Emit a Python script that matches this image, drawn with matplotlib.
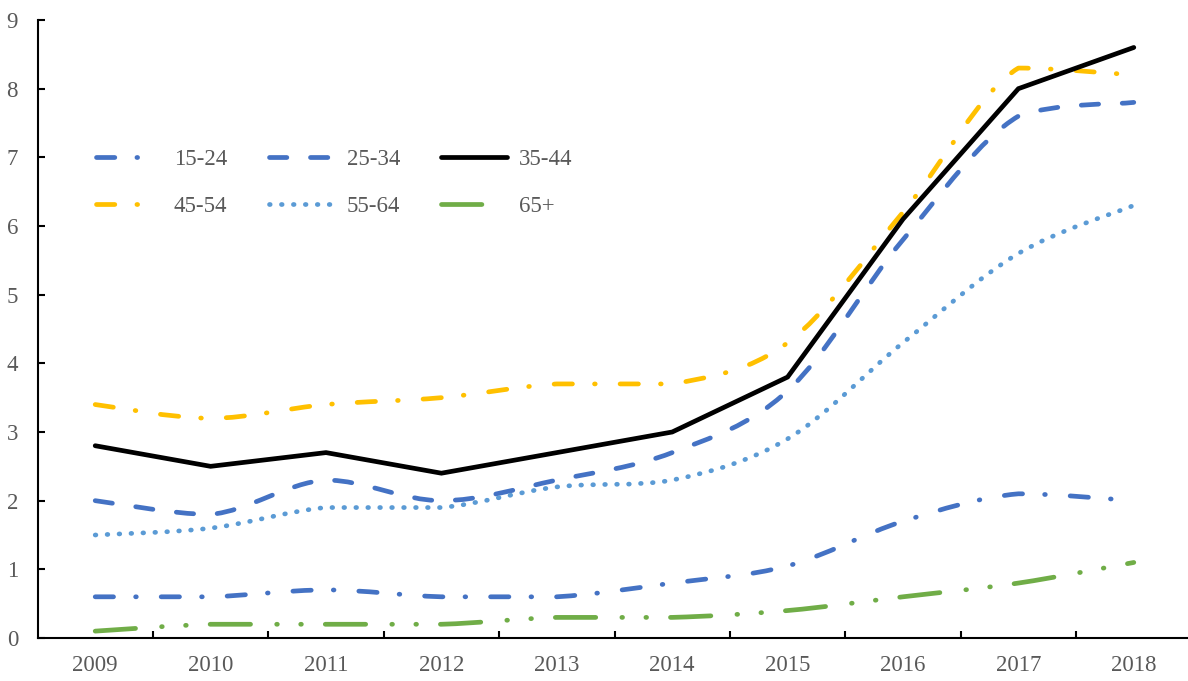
import numpy as np
import matplotlib
matplotlib.use("Agg")
import matplotlib.pyplot as plt
from matplotlib.path import Path
from matplotlib.patches import PathPatch
from matplotlib.lines import Line2D

plt.rcParams['font.family'] = ['Liberation Serif', 'DejaVu Serif']
plt.rcParams['lines.scale_dashes'] = False

# data
years = ['2009', '2010', '2011', '2012', '2013', '2014', '2015', '2016', '2017', '2018']
age_15_24 = [0.6, 0.6, 0.7, 0.6, 0.6, 0.8, 1.05, 1.7, 2.1, 2.0]
age_25_34 = [2.0, 1.8, 2.3, 2.0, 2.3, 2.7, 3.6, 5.8, 7.6, 7.8]
age_35_44 = [2.8, 2.5, 2.7, 2.4, 2.7, 3.0, 3.8, 6.1, 8.0, 8.6]
age_45_54 = [3.4, 3.2, 3.4, 3.5, 3.7, 3.7, 4.3, 6.2, 8.3, 8.2]
age_55_64 = [1.5, 1.6, 1.9, 1.9, 2.2, 2.3, 2.9, 4.3, 5.6, 6.3]
age_65 = [0.1, 0.2, 0.2, 0.2, 0.3, 0.3, 0.4, 0.6, 0.8, 1.1]
labels = ['15-24', '25-34', '35-44', '45-54', '55-64', '65+']

LW = 3.4
GREY = '#595959'

# (values, colour, dash pattern in points or None for solid, smoothed?)
series = [
    (age_15_24, '#4472C4', (13.2, 15.9, 0.5, 17.9), True),
    (age_25_34, '#4472C4', (12.5, 17.0), True),
    (age_35_44, '#000000', None, False),
    (age_45_54, '#FFC000', (13.2, 15.9, 0.5, 17.9), True),
    (age_55_64, '#5B9BD5', (0.5, 8.1), True),
    (age_65, '#70AD47', (29.1, 18.8, 0.5, 16.8, 0.5, 17.2), True),
]


def smooth_path(xs, ys):
    # smoothed line like Excel: cubic Bezier through every data point,
    # control points kept inside each segment's value range
    pts = np.column_stack([xs, ys]).astype(float)
    n = len(pts)
    verts = [pts[0]]
    codes = [Path.MOVETO]
    for i in range(n - 1):
        p0 = pts[max(i - 1, 0)]
        p1 = pts[i]
        p2 = pts[i + 1]
        p3 = pts[min(i + 2, n - 1)]
        c1 = p1 + (p2 - p0) / 6
        c2 = p2 - (p3 - p1) / 6
        lo, hi = min(p1[1], p2[1]), max(p1[1], p2[1])
        c1[1] = np.clip(c1[1], lo, hi)
        c2[1] = np.clip(c2[1], lo, hi)
        verts += [c1, c2, p2]
        codes += [Path.CURVE4] * 3
    return Path(verts, codes)


fig = plt.figure(figsize=(11.88, 6.81), dpi=100)
ax = fig.add_axes([37.5 / 1188, 43 / 681, 1154 / 1188, 618 / 681])

x = np.arange(len(years))
handles = []
for (vals, col, dash, smooth), lab in zip(series, labels):
    ls = '-' if dash is None else (0, dash)
    if smooth:
        patch = PathPatch(smooth_path(x, vals), fill=False, edgecolor=col,
                          linewidth=LW, linestyle=ls, capstyle='round',
                          joinstyle='round')
        ax.add_patch(patch)
    else:
        ax.plot(x, vals, color=col, linewidth=LW, linestyle=ls,
                solid_capstyle='round', solid_joinstyle='miter')
    handles.append(Line2D([], [], color=col, linewidth=LW,
                          linestyle=ls, dash_capstyle='round',
                          solid_capstyle='round'))

ax.set_xlim(-0.5, len(years) - 0.5)
ax.set_ylim(0, 9)
ax.set_yticks(range(10))
ax.set_xticks(x)
ax.set_xticklabels(years)
ax.set_xticks(np.arange(0.5, len(years) - 1, 1.0), minor=True)

for s in ['top', 'right']:
    ax.spines[s].set_visible(False)
for s in ['left', 'bottom']:
    ax.spines[s].set_linewidth(1.5)
    ax.spines[s].set_color('black')

ax.tick_params(axis='y', direction='in', length=5, width=1.5, pad=14,
               labelsize=16.5, labelcolor=GREY)
ax.tick_params(axis='x', which='major', length=0, pad=12,
               labelsize=16.5, labelcolor=GREY)
ax.tick_params(axis='x', which='minor', direction='in', length=5, width=1.5)

# legend fills by column, so reorder for row-wise layout
order = [0, 3, 1, 4, 2, 5]
leg = fig.legend([handles[i] for i in order], [labels[i] for i in order],
                 ncol=3, frameon=False, loc='upper left',
                 bbox_to_anchor=(96 / 1188, 1 - 149 / 681),
                 borderpad=0, borderaxespad=0, fontsize=16.5,
                 handlelength=2.85, handletextpad=0.55, columnspacing=1.8,
                 labelspacing=1.15)
for t in leg.get_texts():
    t.set_color(GREY)

fig.savefig('out.png', dpi=100)
